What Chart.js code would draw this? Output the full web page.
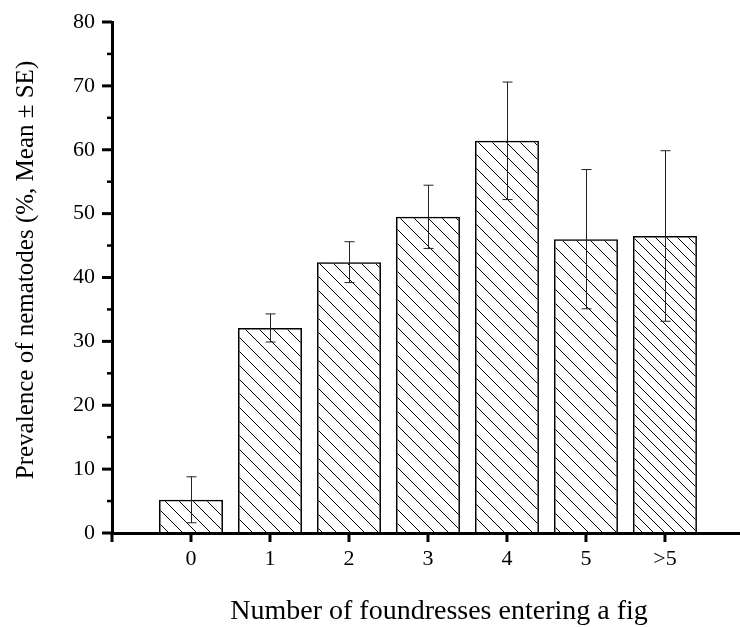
<!DOCTYPE html>
<html>
<head>
<meta charset="utf-8">
<script src="https://cdn.jsdelivr.net/npm/chart.js@4/dist/chart.umd.min.js"></script>
<style>
  html, body { margin: 0; padding: 0; background: #fff; }
  #wrap { width: 740px; height: 627px; }
</style>
</head>
<body>
<div id="wrap"><canvas id="chart" width="740" height="627"></canvas></div>
<script>
/* ---------- data ---------- */
const categories = ["0", "1", "2", "3", "4", "5", ">5"];
const meanValues = [5.2, 32.1, 42.4, 49.5, 61.4, 46.0, 46.5];
const seValues = [3.6, 2.2, 3.2, 4.95, 9.2, 10.9, 13.35];
const yMin = 0, yMax = 80, yMajorStep = 10, yMinorStep = 5;
const xMin = -1, xMax = 6.95;

const xTitle = "Number of foundresses entering a fig";
const yTitle = "Prevalence of nematodes (%, Mean \u00B1 SE)";
const FONT = "'Liberation Serif', 'Times New Roman', serif";

/* ---------- hatch fill ---------- */
function hatch(size) {
    const c = document.createElement("canvas");
    c.width = size; c.height = size;
    const g = c.getContext("2d");
    g.strokeStyle = "#000";
    g.lineWidth = 1;
    g.beginPath();
    g.moveTo(-1, -1); g.lineTo(size + 1, size + 1);
    g.moveTo(size - 1, -1); g.lineTo(size + 1, 1);
    g.moveTo(-1, size - 1); g.lineTo(1, size + 1);
    g.stroke();
    return g.createPattern(c, "repeat");
}
const fills = categories.map((c, i) => hatch(i === categories.length - 1 ? 11 : 14));

/* ---------- error bars, tick marks, axis titles ---------- */
const extras = {
    id: "extras",
    afterDatasetsDraw(chart) {
        const ctx = chart.ctx;
        const y = chart.scales.y;
        const meta = chart.getDatasetMeta(0);
        ctx.save();
        ctx.strokeStyle = "#222";
        ctx.lineWidth = 1;
        meanValues.forEach((m, i) => {
            const bar = meta.data[i];
            if (!bar) return;
            const x = Math.round(bar.x) + 0.5;
            const top = y.getPixelForValue(m + seValues[i]);
            const bot = y.getPixelForValue(m - seValues[i]);
            ctx.beginPath();
            ctx.moveTo(x, top); ctx.lineTo(x, bot);
            ctx.moveTo(x - 5, top); ctx.lineTo(x + 5, top);
            ctx.moveTo(x - 5, bot); ctx.lineTo(x + 5, bot);
            ctx.stroke();
        });
        ctx.restore();
    },
    afterDraw(chart) {
        const ctx = chart.ctx;
        const area = chart.chartArea;
        const x = chart.scales.x, y = chart.scales.y;
        ctx.save();
        ctx.strokeStyle = "#000";
        // y ticks, outward
        for (let v = yMin; v <= yMax; v += yMinorStep) {
            const major = v % yMajorStep === 0;
            const py = y.getPixelForValue(v);
            ctx.lineWidth = major ? 3 : 2.5;
            ctx.beginPath();
            ctx.moveTo(area.left, py);
            ctx.lineTo(area.left - (major ? 10 : 5), py);
            ctx.stroke();
        }
        // x ticks, downward
        ctx.lineWidth = 3;
        x.ticks.forEach(t => {
            const px = x.getPixelForValue(t.value);
            ctx.beginPath();
            ctx.moveTo(px, area.bottom);
            ctx.lineTo(px, area.bottom + 9);
            ctx.stroke();
        });
        // axis titles
        ctx.fillStyle = "#000";
        ctx.textAlign = "center";
        ctx.textBaseline = "middle";
        ctx.font = "28px " + FONT;
        ctx.fillText(xTitle, 439, 612);
        ctx.font = "25px " + FONT;
        ctx.translate(26, 270);
        ctx.rotate(-Math.PI / 2);
        ctx.fillText(yTitle, 0, 0);
        ctx.restore();
    }
};

/* ---------- chart ---------- */
new Chart(document.getElementById("chart"), {
    type: "bar",
    data: {
        datasets: [{
            data: meanValues.map((v, i) => ({ x: i, y: v })),
            backgroundColor: fills,
            borderColor: "#000",
            borderWidth: 1.5,
            barPercentage: 0.81,
            categoryPercentage: 1
        }]
    },
    options: {
        responsive: false,
        animation: false,
        layout: { padding: { top: 22, right: 0, left: 0, bottom: 0 } },
        plugins: { legend: { display: false }, tooltip: { enabled: false } },
        scales: {
            x: {
                type: "linear",
                min: xMin,
                max: xMax,
                offset: false,
                grid: { display: true, drawOnChartArea: false, drawTicks: true, tickLength: 13, tickColor: "transparent" },
                border: { display: true, color: "#000", width: 3 },
                ticks: {
                    stepSize: 1,
                    includeBounds: false,
                    color: "#000",
                    font: { family: FONT, size: 22 },
                    padding: 0,
                    maxRotation: 0,
                    autoSkip: false,
                    callback: v => categories[v] ?? ""
                },
                afterFit(scale) { scale.height = 94; }
            },
            y: {
                min: yMin,
                max: yMax,
                grid: { display: true, drawOnChartArea: false, drawTicks: true, tickLength: 17, tickColor: "transparent" },
                border: { display: true, color: "#000", width: 3 },
                ticks: {
                    stepSize: yMinorStep,
                    color: "#000",
                    font: { family: FONT, size: 22 },
                    padding: 0,
                    callback: v => (v % yMajorStep === 0 ? String(v) : "")
                },
                afterFit(scale) { scale.width = 112; }
            }
        }
    },
    plugins: [extras]
});
</script>
</body>
</html>
